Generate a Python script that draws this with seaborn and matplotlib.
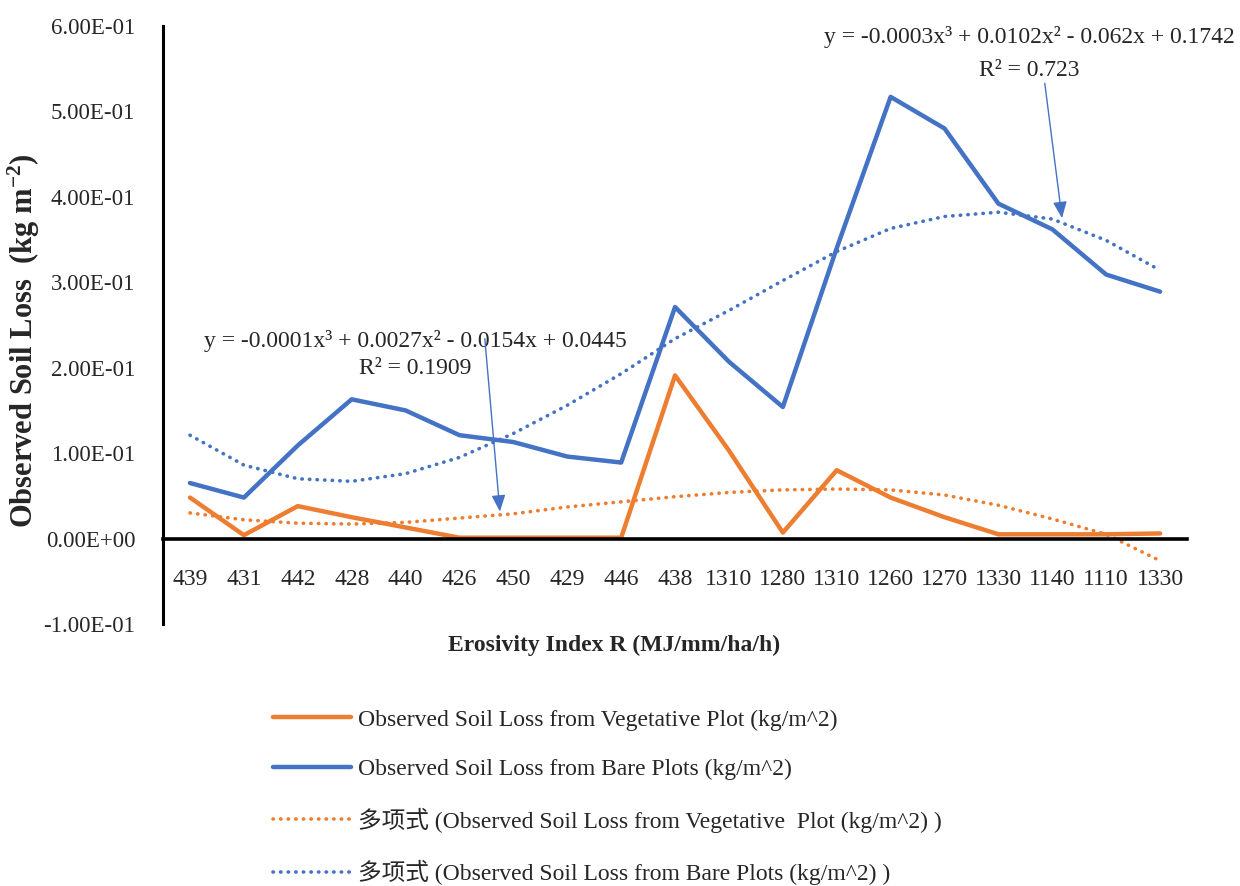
import matplotlib
matplotlib.use('Agg')
import matplotlib.pyplot as plt
import seaborn as sns
import pandas as pd
import numpy as np

# Erosivity index categories (x axis, in plot order)
erosivity = ['439', '431', '442', '428', '440', '426', '450', '429', '446', '438',
             '1310', '1280', '1310', '1260', '1270', '1330', '1140', '1110', '1330']

# Observed soil loss (kg/m^2)
veg_loss = [0.048, 0.004, 0.038, 0.025, 0.013, 0.001, 0.001, 0.001, 0.001, 0.191,
            0.103, 0.007, 0.080, 0.048, 0.025, 0.005, 0.005, 0.005, 0.006]
bare_loss = [0.065, 0.048, 0.109, 0.163, 0.150, 0.121, 0.113, 0.096, 0.089, 0.271,
             0.207, 0.154, 0.340, 0.517, 0.480, 0.392, 0.362, 0.309, 0.289]

# Excel polynomial trend lines at each category
veg_trend = [0.030, 0.022, 0.018, 0.017, 0.019, 0.024, 0.029, 0.037, 0.043, 0.049,
             0.054, 0.057, 0.058, 0.057, 0.051, 0.039, 0.023, 0.005, -0.026]
bare_trend = [0.121, 0.086, 0.070, 0.067, 0.076, 0.095, 0.123, 0.156, 0.193, 0.234,
              0.267, 0.302, 0.336, 0.363, 0.377, 0.382, 0.374, 0.349, 0.314]

veg_eq = 'y = -0.0001x³ + 0.0027x² - 0.0154x + 0.0445\nR² = 0.1909'
bare_eq = 'y = -0.0003x³ + 0.0102x² - 0.062x + 0.1742\nR² = 0.723'

labels = ['Observed Soil Loss from Vegetative Plot (kg/m^2)',
          'Observed Soil Loss from Bare Plots (kg/m^2)',
          '多项式 (Observed Soil Loss from Vegetative  Plot (kg/m^2) )',
          '多项式 (Observed Soil Loss from Bare Plots (kg/m^2) )']

orange = '#ED7D31'
blue = '#4472C4'

sns.set_style('white')
plt.rcParams['font.family'] = ['Liberation Serif', 'Noto Sans CJK SC']
plt.rcParams['mathtext.fontset'] = 'custom'
plt.rcParams['mathtext.rm'] = 'Liberation Serif'
plt.rcParams['mathtext.bf'] = 'Liberation Serif:bold'

pos = np.arange(len(erosivity))
df = pd.DataFrame({'pos': pos, 'veg': veg_loss, 'bare': bare_loss,
                   'veg_t': veg_trend, 'bare_t': bare_trend})

fig = plt.figure(figsize=(12.4, 8.86), dpi=100)
ax = fig.add_axes([0.1315, 0.2957, 0.8258, 0.675])

dot = (0, (0.1, 2.0))
sns.lineplot(data=df, x='pos', y='veg', color=orange, lw=3.2, ax=ax, label=labels[0])
sns.lineplot(data=df, x='pos', y='bare', color=blue, lw=3.2, ax=ax, label=labels[1])
sns.lineplot(data=df, x='pos', y='veg_t', color=orange, lw=2.6, ax=ax, label=labels[2],
             linestyle=dot, dash_capstyle='round')
sns.lineplot(data=df, x='pos', y='bare_t', color=blue, lw=2.6, ax=ax, label=labels[3],
             linestyle=dot, dash_capstyle='round')
ax.lines[0].set_solid_capstyle('round')
ax.lines[1].set_solid_capstyle('round')

ax.set_xlim(-0.5, len(erosivity) - 0.5)
ax.set_ylim(-0.1, 0.6)
ax.set_xticks(pos)
ax.set_xticklabels(erosivity)
yt = np.round(np.arange(-0.1, 0.61, 0.1), 2)
ax.set_yticks(yt)
ax.set_yticklabels(['{:.2E}'.format(v + 0.0) for v in yt])
ax.tick_params(axis='x', length=0, pad=22, labelsize=17)
ax.tick_params(axis='y', length=0, pad=20, labelsize=16.5)

for s in ['top', 'right']:
    ax.spines[s].set_visible(False)
ax.spines['bottom'].set_position(('data', 0))
ax.spines['bottom'].set_linewidth(2.6)
ax.spines['left'].set_linewidth(2.2)
ax.spines['bottom'].set_color('black')
ax.spines['left'].set_color('black')
ax.grid(False)

ax.set_xlabel('Erosivity Index R (MJ/mm/ha/h)', fontsize=17, fontweight='bold')
ax.xaxis.set_label_coords(0.44, -0.018)
ax.set_ylabel(r'Observed Soil Loss  (kg m$\mathbf{^{-2}}$)', fontsize=22, fontweight='bold')
ax.yaxis.set_label_coords(-0.118, 0.473)

# trend line equations with arrows
arrow_style = '-|>,head_length=1.0,head_width=0.42'
ax.text(15.57, 0.568, bare_eq, ha='center', va='center', fontsize=17,
        linespacing=1.75, clip_on=False)
ann1 = ax.annotate('', xy=(16.18, 0.375), xytext=(15.86, 0.533), annotation_clip=False,
                   arrowprops=dict(arrowstyle=arrow_style, color=blue, lw=1,
                                   shrinkA=0, shrinkB=0))
ax.text(4.175, 0.2157, veg_eq, ha='center', va='center', fontsize=17,
        linespacing=1.35, clip_on=False)
ann2 = ax.annotate('', xy=(5.75, 0.0316), xytext=(5.47, 0.234), annotation_clip=False,
                   arrowprops=dict(arrowstyle=arrow_style, color=blue, lw=1,
                                   shrinkA=0, shrinkB=0))
for a in (ann1, ann2):
    a.arrow_patch.set_clip_on(False)

handles, labs = ax.get_legend_handles_labels()
ax.legend(handles, labs, loc='upper left', bbox_to_anchor=(0.211, 0.213),
          bbox_transform=fig.transFigure, frameon=False, fontsize=17,
          handlelength=3.3, labelspacing=1.17, handletextpad=0.3, borderpad=0)

fig.savefig('out.png', dpi=100)
